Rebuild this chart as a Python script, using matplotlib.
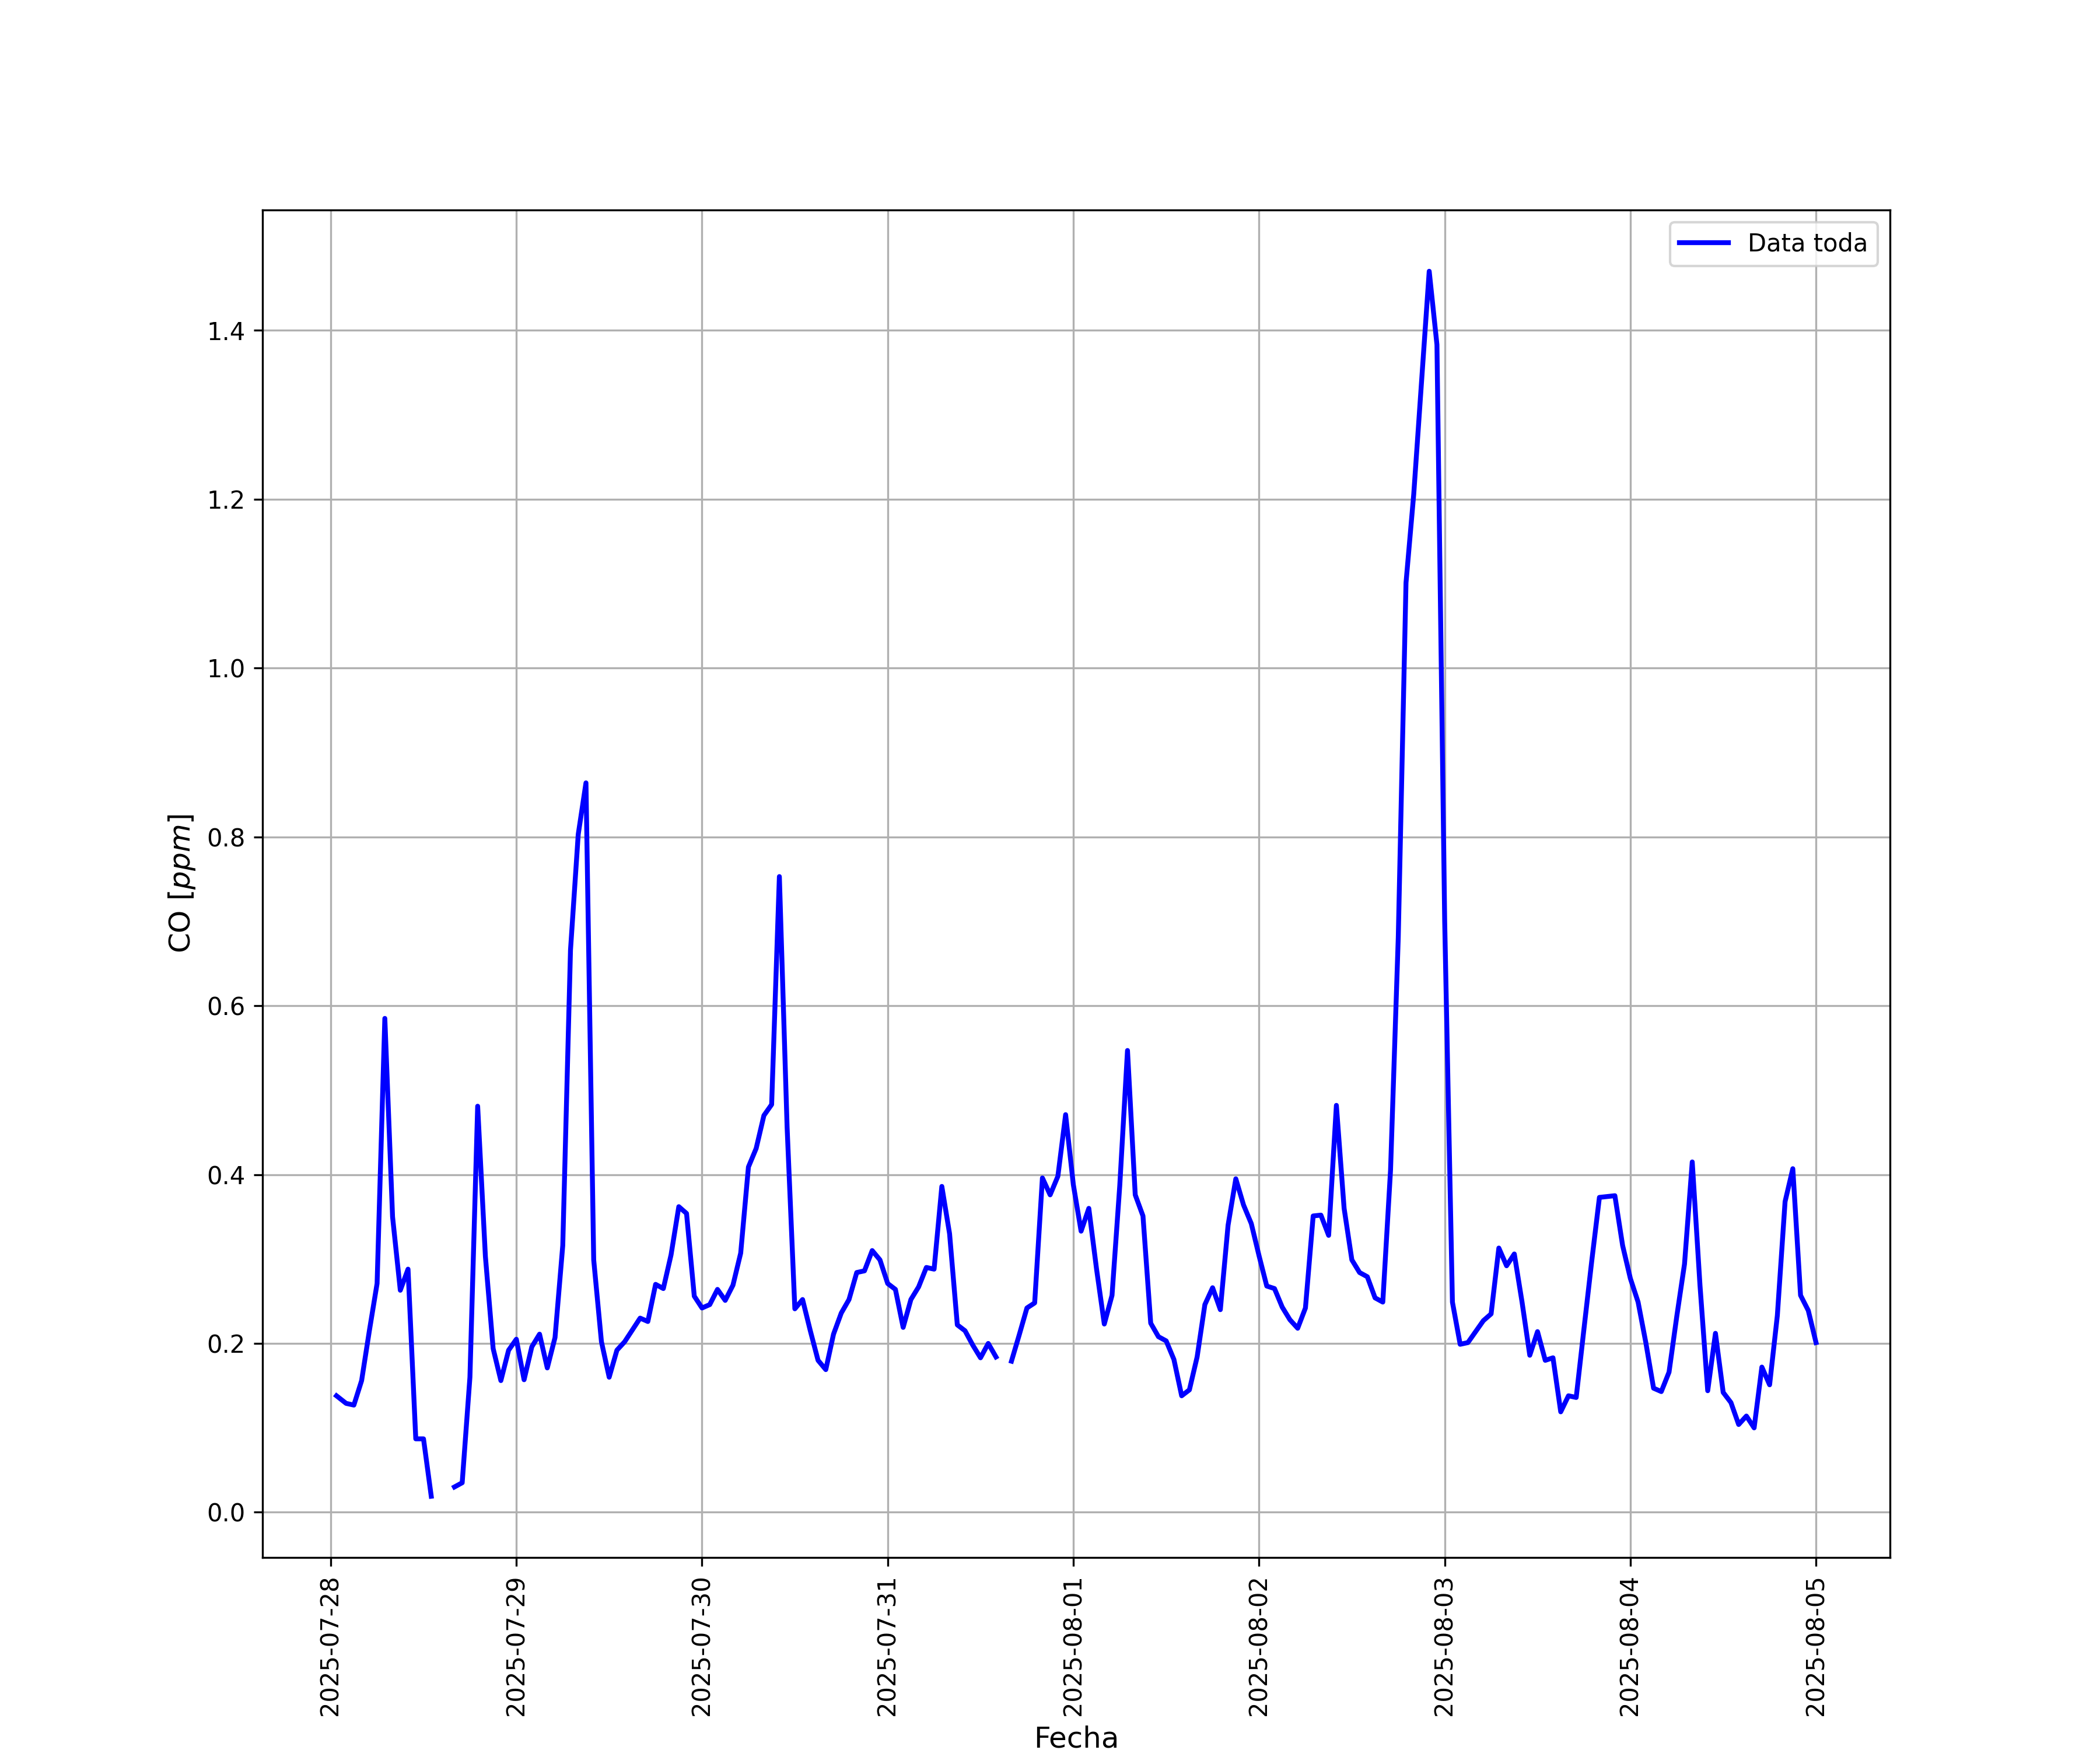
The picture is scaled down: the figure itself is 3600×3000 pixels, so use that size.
import numpy as np
import pandas as pd
import matplotlib
matplotlib.use("Agg")
import matplotlib.pyplot as plt
import matplotlib.dates as mdates

nan = np.nan

# CO hourly readings (ppm), one list per day
co_jul28 = [0.138, 0.129, 0.127, 0.156, 0.215, 0.271, 0.585, 0.350, 0.263, 0.288, 0.087, 0.087,
            0.019, nan, nan, 0.030, 0.035, 0.160, 0.481, 0.303, 0.194, 0.156, 0.192, 0.205]
co_jul29 = [0.157, 0.196, 0.211, 0.171, 0.207, 0.316, 0.666, 0.803, 0.864, 0.299, 0.202, 0.160,
            0.192, 0.202, 0.216, 0.230, 0.226, 0.270, 0.265, 0.305, 0.362, 0.354, 0.256, 0.242]
co_jul30 = [0.246, 0.264, 0.251, 0.269, 0.307, 0.409, 0.431, 0.470, 0.483, 0.753, 0.456, 0.241,
            0.252, 0.215, 0.180, 0.169, 0.211, 0.236, 0.252, 0.284, 0.286, 0.310, 0.299, 0.271]
co_jul31 = [0.264, 0.219, 0.252, 0.267, 0.290, 0.288, 0.386, 0.330, 0.222, 0.215, 0.198, 0.183,
            0.200, 0.184, nan, 0.179, 0.210, 0.242, 0.248, 0.396, 0.376, 0.398, 0.471, 0.388]
co_aug01 = [0.333, 0.360, 0.288, 0.223, 0.257, 0.387, 0.547, 0.376, 0.351, 0.224, 0.208, 0.203,
            0.181, 0.138, 0.145, 0.184, 0.246, 0.266, 0.240, 0.340, 0.395, 0.364, 0.342, 0.304]
co_aug02 = [0.268, 0.265, 0.243, 0.228, 0.218, 0.242, 0.351, 0.352, 0.328, 0.482, 0.360, 0.299,
            0.284, 0.279, 0.254, 0.249, 0.405, 0.681, 1.101, 1.206, 1.338, 1.470, 1.383, 0.700]
co_aug03 = [0.249, 0.199, 0.201, 0.214, 0.227, 0.235, 0.313, 0.292, 0.306, 0.249, 0.186, 0.214,
            0.180, 0.183, 0.119, 0.138, 0.136, 0.217, 0.297, 0.373, 0.374, 0.375, 0.316, 0.277]
co_aug04 = [0.249, 0.201, 0.147, 0.143, 0.166, 0.232, 0.294, 0.415, 0.269, 0.144, 0.212, 0.142,
            0.130, 0.104, 0.114, 0.100, 0.172, 0.151, 0.233, 0.368, 0.407, 0.257, 0.239, 0.201]

# first record came in a bit before 01:00, the rest are on the hour
first_time = pd.Timestamp("2025-07-28 00:45")
hourly = pd.date_range("2025-07-28 02:00", "2025-08-05 00:00", freq="h")
fechas = pd.DatetimeIndex([first_time]).append(hourly)

co = (co_jul28 + co_jul29 + co_jul30 + co_jul31 +
      co_aug01 + co_aug02 + co_aug03 + co_aug04)
serie = pd.Series(co, index=fechas)

fig, ax = plt.subplots(figsize=(12, 10))
ax.plot(serie.index, serie.values, color="blue", linewidth=2, label="Data toda")

ax.xaxis.set_major_locator(mdates.DayLocator())
ax.xaxis.set_major_formatter(mdates.DateFormatter("%Y-%m-%d"))
plt.setp(ax.get_xticklabels(), rotation=90)

ax.set_xlabel("Fecha", fontsize=12)
ax.set_ylabel("CO [$ppm$]", fontsize=12)
ax.grid(True)
ax.legend(loc="upper right")

plt.savefig("out.png", dpi=300)
